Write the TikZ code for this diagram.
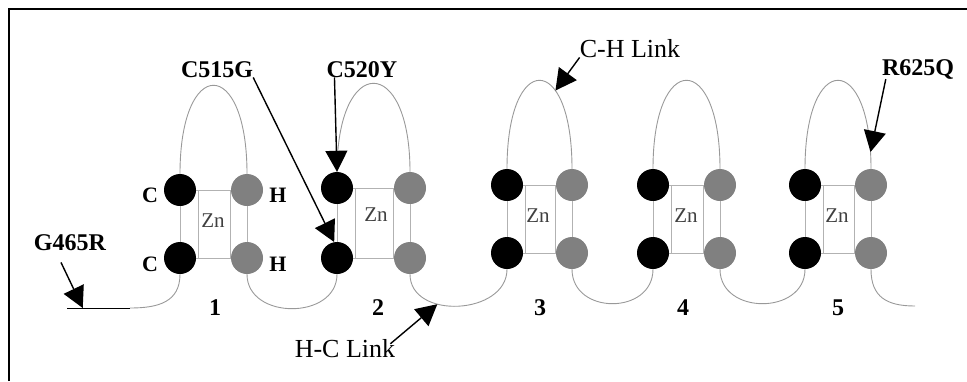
\documentclass[tikz,border=0pt]{standalone}
\usepackage{fontspec}
\setmainfont{Liberation Serif}
\usetikzlibrary{arrows.meta}
\tikzset{
	cys/.style={circle,fill=black,minimum size=32pt,inner sep=0pt},
	his/.style={circle,fill=black!50,minimum size=32pt,inner sep=0pt},
	chain/.style={draw=black!40,line width=0.9pt},
	znbox/.style={draw=black!30,line width=0.8pt},
	mut/.style={inner sep=0pt,anchor=base,font=\fontsize{24}{24}\selectfont\bfseries},
	res/.style={inner sep=0pt,anchor=base,font=\fontsize{22}{22}\selectfont\bfseries},
	link/.style={inner sep=0pt,anchor=base,font=\fontsize{26}{26}\selectfont},
	zn/.style={inner sep=0pt,anchor=base,font=\fontsize{21}{21}\selectfont,text=black!75},
	hit/.style={-{Triangle[length=21pt,width=22pt]},line width=1.4pt},
}

\begin{document}
\begin{tikzpicture}[x=1pt,y=-1pt]
	\useasboundingbox (0,0) rectangle (967,381);
	\draw[line width=2pt] (9,381) -- (9,9) -- (967,9);
	\foreach \n/\xc/\xh/\yt/\yb/\xz/\yz/\xn in {1/180/247/190/258/213/227/215,2/337/410/188/258/376/221/378,3/507/572/185/253/538/222/540,4/653/720/185/253/686/222/683,5/805/871/185/253/837/222/838}{
		\draw[znbox] (\xc,\yt) rectangle (\xh,\yb);
		\draw[znbox] (\xc+18,\yt) -- (\xc+18,\yb) (\xh-17,\yt) -- (\xh-17,\yb);
		\node[cys] (cT\n) at (\xc,\yt) {};
		\node[cys] (cB\n) at (\xc,\yb) {};
		\node[his] (hT\n) at (\xh,\yt) {};
		\node[his] (hB\n) at (\xh,\yb) {};
		\node[zn] (zn\n) at (\xz,\yz) {Zn};
		\node[mut] (num\n) at (\xn,315) {\n};
		\draw[chain] (cT\n.north) .. controls +(0,-118) and +(0,-118) .. (hT\n.north)
			coordinate[pos=0.67] (lpA\n) coordinate[pos=0.95] (lpB\n);
	}
	\foreach \a/\b in {1/2,2/3,3/4,4/5}
	\draw[chain] (hB\a.south) .. controls +(0,46) and +(0,46) .. (cB\b.south) coordinate[pos=0.35] (lk\a);
	\coordinate (tl) at (130,308);
	\coordinate (te) at (67,308);
	\coordinate (tr) at (915,306);
	\draw[chain] (cB1.south) .. controls +(0,28) and +(28,0) .. (tl);
	\draw[line width=1pt] (tl) -- (te) coordinate[pos=0.75] (gt);
	\draw[chain] (hB5.south) .. controls +(0,28) and +(-28,0) .. (tr);
	\node[res] (rC1) at (150,202) {C};
	\node[res] (rC2) at (150,271) {C};
	\node[res] (rH1) at (278,202) {H};
	\node[res] (rH2) at (278,271) {H};
	\node[mut] (mG) at (70,250) {G465R};
	\node[mut] (mC1) at (217,77) {C515G};
	\node[mut] (mC2) at (362,77) {C520Y};
	\node[mut] (mR) at (918,75) {R625Q};
	\node[link] (lCH) at (630,57) {C-H Link};
	\node[link] (lHC) at (345,357) {H-C Link};
	\draw[hit] ([shift={(-9pt,-12pt)}]mG.south) -- (gt);
	\draw[hit] (mC1.south east) -- (cB2.100);
	\draw[hit] ([xshift=8pt]mC2.south west) -- (cT2.north);
	\draw[hit] (lCH.south west) -- (lpA3);
	\draw[hit] ([xshift=4pt]mR.south west) -- (lpB5);
	\draw[hit] ([shift={(-5pt,-5pt)}]lHC.north east) -- (lk2);
\end{tikzpicture}
\end{document}
